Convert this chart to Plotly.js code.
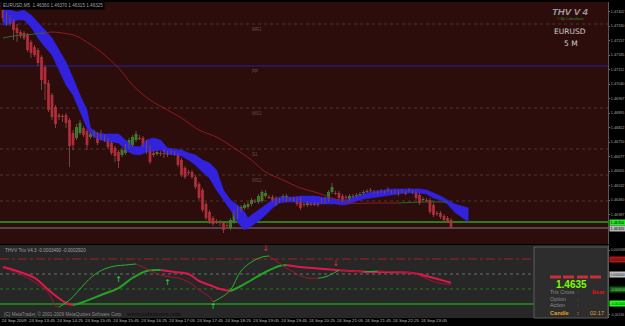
<!DOCTYPE html>
<html><head><meta charset="utf-8">
<script src="https://cdn.plot.ly/plotly-3.0.1.min.js"></script>
<style>html,body{margin:0;padding:0;background:#000;overflow:hidden}#chart{width:625px;height:326px}</style>
</head><body><div id="chart"></div>
<script>
// ---------------- DATA ----------------
const symbol = "EURUSD,M5";
const candleOpen = [1.47410,1.47390,1.47375,1.47355,1.47320,1.47300,1.47295,1.47285,1.47250,1.47225,
1.47210,1.47175,1.47125,1.47045,1.46985,1.46925,1.46885,1.46880,1.46885,1.46860,
1.46795,1.46770,1.46795,1.46820,1.46805,1.46775,1.46780,1.46785,1.46775,1.46770,
1.46760,1.46745,1.46720,1.46700,1.46685,1.46695,1.46725,1.46735,1.46760,1.46770,
1.46770,1.46750,1.46725,1.46695,1.46690,1.46695,1.46695,1.46695,1.46690,1.46695,
1.46685,1.46660,1.46620,1.46600,1.46600,1.46575,1.46540,1.46510,1.46440,1.46400,
1.46370,1.46355,1.46350,1.46345,1.46335,1.46320,1.46350,1.46375,1.46410,1.46420,
1.46425,1.46440,1.46455,1.46450,1.46455,1.46480,1.46475,1.46475,1.46470,1.46460,
1.46465,1.46460,1.46465,1.46465,1.46465,1.46465,1.46440,1.46435,1.46440,1.46440,
1.46440,1.46460,1.46450,1.46460,1.46500,1.46495,1.46495,1.46480,1.46475,1.46465,
1.46480,1.46480,1.46485,1.46495,1.46500,1.46510,1.46500,1.46500,1.46505,1.46500,
1.46505,1.46500,1.46500,1.46500,1.46505,1.46495,1.46510,1.46500,1.46495,1.46485,
1.46460,1.46460,1.46460,1.46435,1.46395,1.46395,1.46380,1.46370,1.46360];
const candleClose = [1.47370,1.47340,1.47340,1.47310,1.47295,1.47280,1.47270,1.47210,1.47195,1.47185,
1.47145,1.47060,1.47040,1.46910,1.46875,1.46840,1.46875,1.46875,1.46845,1.46730,
1.46735,1.46825,1.46845,1.46785,1.46735,1.46790,1.46790,1.46745,1.46770,1.46765,
1.46725,1.46695,1.46680,1.46655,1.46710,1.46730,1.46760,1.46775,1.46790,1.46765,
1.46735,1.46700,1.46650,1.46685,1.46700,1.46690,1.46690,1.46685,1.46700,1.46690,
1.46635,1.46585,1.46575,1.46595,1.46575,1.46525,1.46470,1.46410,1.46370,1.46350,
1.46340,1.46350,1.46345,1.46310,1.46330,1.46360,1.46400,1.46420,1.46425,1.46435,
1.46440,1.46460,1.46450,1.46480,1.46500,1.46495,1.46470,1.46460,1.46440,1.46455,
1.46480,1.46480,1.46460,1.46460,1.46440,1.46420,1.46435,1.46445,1.46435,1.46435,
1.46435,1.46450,1.46465,1.46500,1.46525,1.46490,1.46470,1.46460,1.46470,1.46480,
1.46475,1.46485,1.46490,1.46500,1.46505,1.46505,1.46495,1.46495,1.46500,1.46495,
1.46515,1.46495,1.46495,1.46490,1.46500,1.46490,1.46505,1.46495,1.46470,1.46445,
1.46465,1.46455,1.46400,1.46385,1.46390,1.46375,1.46360,1.46355,1.46325];
const candleHigh = [1.47420,1.47400,1.47385,1.47365,1.47340,1.47310,1.47305,1.47295,1.47260,1.47235,
1.47220,1.47185,1.47135,1.47060,1.46995,1.46935,1.46895,1.46890,1.46895,1.46870,
1.46810,1.46840,1.46860,1.46830,1.46815,1.46800,1.46810,1.46800,1.46810,1.46785,
1.46770,1.46755,1.46730,1.46710,1.46720,1.46740,1.46770,1.46785,1.46805,1.46785,
1.46780,1.46760,1.46735,1.46710,1.46710,1.46705,1.46715,1.46705,1.46710,1.46705,
1.46695,1.46670,1.46630,1.46610,1.46610,1.46585,1.46550,1.46520,1.46450,1.46410,
1.46380,1.46365,1.46360,1.46355,1.46345,1.46370,1.46410,1.46430,1.46435,1.46445,
1.46450,1.46470,1.46465,1.46490,1.46510,1.46510,1.46485,1.46485,1.46480,1.46470,
1.46490,1.46490,1.46475,1.46475,1.46475,1.46475,1.46450,1.46455,1.46450,1.46450,
1.46450,1.46470,1.46475,1.46510,1.46545,1.46505,1.46505,1.46490,1.46485,1.46490,
1.46490,1.46495,1.46500,1.46510,1.46515,1.46520,1.46510,1.46510,1.46515,1.46510,
1.46525,1.46510,1.46510,1.46510,1.46515,1.46505,1.46520,1.46510,1.46505,1.46495,
1.46475,1.46470,1.46470,1.46445,1.46405,1.46405,1.46390,1.46380,1.46370];
const candleLow = [1.47350,1.47330,1.47330,1.47260,1.47250,1.47270,1.47260,1.47200,1.47170,1.47175,
1.47130,1.47010,1.46960,1.46900,1.46860,1.46820,1.46860,1.46850,1.46820,1.46625,
1.46710,1.46760,1.46785,1.46775,1.46710,1.46765,1.46770,1.46735,1.46760,1.46750,
1.46715,1.46685,1.46650,1.46620,1.46675,1.46685,1.46715,1.46725,1.46750,1.46760,
1.46725,1.46690,1.46640,1.46675,1.46680,1.46680,1.46670,1.46675,1.46685,1.46680,
1.46625,1.46575,1.46565,1.46585,1.46565,1.46515,1.46460,1.46400,1.46360,1.46340,
1.46330,1.46340,1.46330,1.46295,1.46320,1.46310,1.46340,1.46365,1.46400,1.46410,
1.46415,1.46430,1.46445,1.46440,1.46445,1.46470,1.46465,1.46450,1.46430,1.46445,
1.46455,1.46450,1.46455,1.46450,1.46430,1.46410,1.46425,1.46425,1.46430,1.46430,
1.46425,1.46440,1.46440,1.46450,1.46490,1.46485,1.46460,1.46450,1.46465,1.46455,
1.46470,1.46475,1.46480,1.46485,1.46495,1.46500,1.46490,1.46490,1.46495,1.46490,
1.46500,1.46490,1.46490,1.46480,1.46495,1.46485,1.46500,1.46490,1.46460,1.46435,
1.46455,1.46450,1.46390,1.46375,1.46380,1.46365,1.46350,1.46345,1.46315];

const timeTickIndex = [0,8,16,24,32,40,48,56,64,72,80,88,96,104,112,120];
const timeTickLabels = ["24 Sep 2009","24 Sep 13:45","24 Sep 14:25","24 Sep 15:05","24 Sep 15:45","24 Sep 16:25",
"24 Sep 17:05","24 Sep 17:45","24 Sep 18:25","24 Sep 19:05","24 Sep 19:45","24 Sep 20:25","24 Sep 21:05",
"24 Sep 21:45","24 Sep 22:25","24 Sep 23:05"];

const cloudIndex = [0,2,4,6,8,10,12,14,16,18,20,22,24,25,27,29,31,33,35,37,39,41,43,45,47,49,51,53,55,57,59,61,63,65,67,69,70,71,73,75,77,79,81,83,85,87,89,91,93,95,97,99,101,103,105,107,109,111,113,115,117,119,121,123,125,127,129,131,133];
const cloudTop = [1.47410,1.47410,1.47400,1.47410,1.47385,1.47350,1.47310,1.47270,1.47210,1.47150,
1.47070,1.46985,1.46910,1.46820,1.46795,1.46790,1.46790,1.46790,1.46760,1.46730,
1.46725,1.46760,1.46770,1.46760,1.46720,1.46715,1.46710,1.46695,1.46685,1.46660,
1.46645,1.46610,1.46510,1.46460,1.46435,1.46400,1.46370,1.46385,1.46410,1.46435,
1.46460,1.46475,1.46475,1.46475,1.46480,1.46480,1.46480,1.46475,1.46470,1.46465,
1.46460,1.46465,1.46480,1.46490,1.46500,1.46505,1.46510,1.46515,1.46515,1.46515,
1.46515,1.46515,1.46510,1.46495,1.46480,1.46460,1.46440,1.46430,1.46420];
const cloudBottom = [1.47335,1.47340,1.47360,1.47360,1.47325,1.47270,1.47225,1.47185,1.47110,1.47035,
1.46985,1.46900,1.46820,1.46790,1.46765,1.46755,1.46750,1.46745,1.46710,1.46690,
1.46685,1.46700,1.46705,1.46710,1.46690,1.46685,1.46680,1.46660,1.46635,1.46600,
1.46570,1.46510,1.46460,1.46410,1.46350,1.46310,1.46320,1.46330,1.46355,1.46385,
1.46420,1.46445,1.46450,1.46450,1.46450,1.46445,1.46440,1.46440,1.46440,1.46440,
1.46435,1.46440,1.46455,1.46465,1.46470,1.46475,1.46480,1.46485,1.46490,1.46495,
1.46495,1.46495,1.46490,1.46470,1.46460,1.46440,1.46400,1.46375,1.46350];

const maIndex = [0,3,6,9,12,14,17,21,23,28,33,37,42,47,51,56,61,66,71,75,80,85,90,94,99,106,113,120,127];
const maValue = [1.47270,1.47280,1.47285,1.47290,1.47295,1.47300,1.47295,1.47280,1.47260,1.47200,
1.47120,1.47035,1.46960,1.46910,1.46870,1.46810,1.46775,1.46720,1.46660,1.46600,
1.46560,1.46520,1.46495,1.46470,1.46445,1.46445,1.46445,1.46450,1.46450];

const pivotLabels = ["MR1","PP","MS1","S1","MS2",""];
const pivotLevels = [1.47340,1.47130,1.46920,1.46715,1.46585,1.46455];
const priceLineLevels = [1.46350,1.46320];

const trixIndex = [0,5,9,13,15,16,17,19,21,23,26,29,32,35,38,40,43,45,48,50,53,56,59,60,63,65,68,71,74,76,78,81,84,87,90,92,94,96,99,103,107,110,113,117,120,123,126,128];
const trixValue = [0.000200,0,-0.000267,-0.000633,-0.001067,-0.001100,-0.001033,-0.000867,-0.000633,-0.000367,
-0.000033,0.000167,0.000267,0.000300,0.000333,0.000233,0.000067,-0.000033,-0.000100,-0.000133,
-0.000267,-0.000533,-0.000767,-0.000933,-0.000733,-0.000533,0.000100,0.000400,0.000567,0.000600,
0.000433,0.000200,0,-0.000133,-0.000140,-0.000100,0,0.000133,0.000100,0.000067,
0.000100,0.000083,0.000067,0.000033,-0.000100,-0.000250,-0.000330,-0.000349];
const signalIndex = [0,9,13,18,20,23,28,33,37,41,45,49,53,56,59,62,65,68,71,75,79,81,85,90,95,100,105,112,117,122,128];
const signalValue = [0.000233,-0.000133,-0.000533,-0.000967,-0.001033,-0.000933,-0.000700,-0.000467,-0.000133,0.000100,
0.000133,0.000067,0,-0.000233,-0.000367,-0.000500,-0.000567,-0.000400,-0.000200,0.000067,
0.000267,0.000300,0.000233,0.000183,0.000133,0.000100,0.000067,0.000060,0.000033,-0.000100,-0.000292];
const trixLevels = [0.0005,0,-0.0005,-0.001];
const arrowUpIndex = [33,47,60];
const arrowUpValue = [-0.00020,-0.00030,-0.00110];
const arrowDownIndex = [75,95];
const arrowDownValue = [0.00083,0.00033];

// ---------------- BUILD ----------------
const FONT = 'Liberation Sans, Arial, sans-serif';
const idx = candleOpen.map((_, i) => i);
const bodyBase = idx.map(i => Math.min(candleOpen[i], candleClose[i]));
const bodyLen = idx.map(i => Math.abs(candleClose[i] - candleOpen[i]));
const bodyColor = idx.map(i => candleClose[i] >= candleOpen[i] ? '#1f9c26' : '#cc1c36');
const wickX = [], wickY = [];
idx.forEach(i => { wickX.push(i, i, null); wickY.push(candleLow[i], candleHigh[i], null); });

function slopeRuns(xs, ys) {
  const up = {x: [], y: []}, dn = {x: [], y: []};
  let curDir = null;
  for (let k = 0; k < xs.length - 1; k++) {
    const dir = ys[k + 1] > ys[k] ? 'up' : 'dn';
    const t = dir === 'up' ? up : dn;
    if (dir !== curDir) {
      if (t.x.length) { t.x.push(null); t.y.push(null); }
      t.x.push(xs[k]); t.y.push(ys[k]);
      curDir = dir;
    }
    t.x.push(xs[k + 1]); t.y.push(ys[k + 1]);
  }
  return {up, dn};
}
function sliceBy(xs, ys, lo, hi) {
  const o = {x: [], y: []};
  xs.forEach((x, k) => { if (x >= lo && x <= hi) { o.x.push(x); o.y.push(ys[k]); } });
  return o;
}

const traces = [];
traces.push({x: cloudIndex, y: cloudBottom, type: 'scatter', mode: 'lines', line: {color: '#3322dd', width: 0.6}});
traces.push({x: cloudIndex, y: cloudTop, type: 'scatter', mode: 'lines', fill: 'tonexty', fillcolor: '#3322dd', line: {color: '#3322dd', width: 0.6}});
const maA = sliceBy(maIndex, maValue, 0, 12), maB = sliceBy(maIndex, maValue, 12, 113), maC = sliceBy(maIndex, maValue, 113, 200);
traces.push({x: maA.x, y: maA.y, type: 'scatter', mode: 'lines', line: {color: '#2c6a2c', width: 1, shape: 'spline'}});
traces.push({x: maB.x, y: maB.y, type: 'scatter', mode: 'lines', line: {color: '#8e1c1c', width: 1, shape: 'spline'}});
traces.push({x: maC.x, y: maC.y, type: 'scatter', mode: 'lines', line: {color: '#2a6a24', width: 1, shape: 'spline'}});
traces.push({x: wickX, y: wickY, type: 'scatter', mode: 'lines', line: {color: 'rgba(120,78,66,0.9)', width: 1}});
traces.push({x: idx, y: bodyLen, base: bodyBase, type: 'bar', width: 0.8, marker: {color: bodyColor, line: {width: 0}}});

const thin = slopeRuns(trixIndex, trixValue);
const thick = slopeRuns(signalIndex, signalValue);
traces.push({x: thick.dn.x, y: thick.dn.y, type: 'scatter', mode: 'lines', line: {color: '#e0174c', width: 2, shape: 'spline'}, xaxis: 'x2', yaxis: 'y2'});
traces.push({x: thick.up.x, y: thick.up.y, type: 'scatter', mode: 'lines', line: {color: '#25a125', width: 2, shape: 'spline'}, xaxis: 'x2', yaxis: 'y2'});
traces.push({x: thin.dn.x, y: thin.dn.y, type: 'scatter', mode: 'lines', line: {color: '#a8122e', width: 1, shape: 'spline'}, xaxis: 'x2', yaxis: 'y2'});
traces.push({x: thin.up.x, y: thin.up.y, type: 'scatter', mode: 'lines', line: {color: '#2fae2f', width: 1, shape: 'spline'}, xaxis: 'x2', yaxis: 'y2'});
traces.push({x: arrowUpIndex, y: arrowUpValue, type: 'scatter', mode: 'text', text: arrowUpIndex.map(() => '↑'), textfont: {family: 'DejaVu Sans', size: 8, color: '#33dd33'}, xaxis: 'x2', yaxis: 'y2'});
traces.push({x: arrowDownIndex, y: arrowDownValue, type: 'scatter', mode: 'text', text: arrowDownIndex.map(() => '↓'), textfont: {family: 'DejaVu Sans', size: 8, color: '#ee2222'}, xaxis: 'x2', yaxis: 'y2'});

const PW = 608, PT = 2, PB = 318, PH = PB - PT;
const px = v => v / PW;
const py = v => (PB - v) / PH;

const shapes = [];
shapes.push({type: 'rect', xref: 'paper', yref: 'paper', x0: 0, x1: 1, y0: 0, y1: py(245), fillcolor: '#272727', line: {width: 0}, layer: 'below'});
const lvlStyle = [{c: '#a52020', d: 'dashdot', w: 1}, {c: '#6e6e6e', d: 'dot', w: 1}, {c: '#1f7a1f', d: 'dot', w: 1}, {c: '#1c9a1c', d: 'solid', w: 1.5}];
trixLevels.forEach((v, k) => shapes.push({type: 'line', xref: 'paper', yref: 'y2', x0: 0, x1: 1, y0: v, y1: v, line: {color: lvlStyle[k].c, dash: lvlStyle[k].d, width: lvlStyle[k].w}, layer: 'below'}));
pivotLevels.forEach((v, k) => shapes.push({type: 'line', xref: 'paper', yref: 'y', x0: 0, x1: 1, y0: v, y1: v,
  line: k === 1 ? {color: '#2222a8', width: 1} : {color: '#4a3a30', width: 1, dash: 'dot'}, layer: 'below'}));
shapes.push({type: 'line', xref: 'paper', yref: 'y', x0: 0, x1: 1, y0: priceLineLevels[0], y1: priceLineLevels[0], line: {color: '#22ee22', width: 1}, layer: 'below'});
shapes.push({type: 'line', xref: 'paper', yref: 'y', x0: 0, x1: 1, y0: priceLineLevels[1], y1: priceLineLevels[1], line: {color: '#7c7c98', width: 1}, layer: 'below'});
shapes.push({type: 'rect', xref: 'paper', yref: 'paper', x0: px(534), x1: px(608), y0: py(318), y1: py(247), fillcolor: '#2d2d2d', line: {color: '#5c5c5c', width: 1}, layer: 'above'});
[[550, 561], [563, 574], [577, 588], [590, 601]].forEach(([a, b]) => shapes.push({type: 'rect', xref: 'paper', yref: 'paper', x0: px(a), x1: px(b), y0: py(278.5), y1: py(275.5), fillcolor: '#c4303c', line: {width: 0}, layer: 'above'}));

const last = candleOpen.length - 1;
const small = {family: FONT, size: 4.6, color: '#a0a0a0'};
const ann = [];
function note(o) { ann.push(Object.assign({xref: 'paper', yref: 'paper', xanchor: 'left', yanchor: 'middle', showarrow: false}, o)); }
note({x: px(1), y: py(5.5), bgcolor: '#000000', borderpad: 1,
  text: symbol + '  ' + [candleOpen[last], candleHigh[last], candleLow[last], candleClose[last]].map(v => v.toFixed(5)).join(' '), font: small});
note({x: px(570), y: py(12), xanchor: 'center', text: '<b><i>THV V 4</i></b>', font: {family: FONT, size: 9.5, color: '#9c9c9c'}});
note({x: px(570), y: py(19.5), xanchor: 'center', text: '© By Cobraforex', font: {family: FONT, size: 3.6, color: '#2f8f2f'}});
note({x: px(570), y: py(32), xanchor: 'center', text: 'EURUSD', font: {family: 'DejaVu Sans', size: 7.5, color: '#cfcfcf'}});
note({x: px(571), y: py(43), xanchor: 'center', text: '5 M', font: {family: 'DejaVu Sans', size: 7.5, color: '#cfcfcf'}});
pivotLevels.forEach((v, k) => { if (pivotLabels[k]) note({yref: 'y', x: px(250), y: v, yanchor: 'top', yshift: -1, text: pivotLabels[k], font: {family: FONT, size: 4.6, color: '#6a4a44'}}); });
note({yref: 'y', x: px(609.3), y: priceLineLevels[0], bgcolor: '#22ee22', borderpad: 0.5, text: priceLineLevels[0].toFixed(5), font: {family: FONT, size: 3.8, color: '#000'}});
note({yref: 'y', x: px(609.3), y: priceLineLevels[1], bgcolor: '#b8b8b8', borderpad: 0.5, text: priceLineLevels[1].toFixed(5), font: {family: FONT, size: 3.8, color: '#000'}});
const lvlBox = [['#b01818', '#300000'], ['#c0c0c0', '#202020'], ['#0c5a0c', '#8fdc8f'], ['#22ff22', '#003300']];
trixLevels.forEach((v, k) => note({yref: 'y2', x: px(609.3), y: v, bgcolor: lvlBox[k][0], borderpad: 0.5, text: v.toFixed(6), font: {family: FONT, size: 3.4, color: lvlBox[k][1]}}));
note({x: px(3), y: py(250), text: 'THVV Trix V4.3 ' + trixValue[trixValue.length - 1].toFixed(7) + ' ' + signalValue[signalValue.length - 1].toFixed(7), font: small});
note({x: px(2), y: py(314), text: '(C) MetaTrader, © 2001-2009 MetaQuotes Software Corp.', font: {family: FONT, size: 4.6, color: '#8a8a8a'}});
note({x: px(125), y: py(313.5), text: 'www.cobraforex.com', font: {family: 'Liberation Serif', size: 6.2, color: '#0a0a0a'}});
note({x: px(571), y: py(284), xanchor: 'center', text: '<b>' + priceLineLevels[0].toFixed(4) + '</b>', font: {family: FONT, size: 10, color: '#7cfc00'}});
const rows = [['Trix Cross', 292], ['Option', 298.5], ['Action', 305]];
rows.forEach(([t, y]) => {
  note({x: px(548), y: py(y), text: t, font: {family: FONT, size: 5.4, color: '#8c8c8c'}});
  note({x: px(575), y: py(y), text: ':', font: {family: FONT, size: 5.4, color: '#8c8c8c'}});
});
note({x: px(590), y: py(292), text: '<b>Bear</b>', font: {family: FONT, size: 5.6, color: '#e01414'}});
note({x: px(548), y: py(313), text: '<b>Candle</b>', font: {family: FONT, size: 5.6, color: '#e0a024'}});
note({x: px(575), y: py(313), text: '<b>:</b>', font: {family: FONT, size: 5.6, color: '#e0a024'}});
note({x: px(588), y: py(313), text: '02:17', font: {family: FONT, size: 5.6, color: '#e0a024'}});

const priceTicks = [];
for (let k = -1; k <= 13; k++) priceTicks.push(1.46460 + k * 0.000725);

const axisFont = {family: FONT, size: 3.8, color: '#a0a0a0'};
const layout = {
  width: 625, height: 326,
  margin: {l: 0, r: 17, t: 2, b: 8, pad: 0},
  paper_bgcolor: '#000000',
  plot_bgcolor: '#2c0d0b',
  showlegend: false,
  hovermode: false,
  xaxis: {domain: [0, 1], range: [-0.857, 172.86], anchor: 'y', showticklabels: false, ticks: '', showgrid: false, zeroline: false, showline: false, fixedrange: true},
  yaxis: {domain: [py(244), 1], range: [1.46240, 1.47450], side: 'right', anchor: 'x', tickmode: 'array', tickvals: priceTicks,
    ticktext: priceTicks.map(v => v.toFixed(5)), tickfont: axisFont, ticks: 'outside', ticklen: 1, tickcolor: '#777', ticklabelstandoff: 0,
    showgrid: false, zeroline: false, showline: true, linecolor: '#585858', linewidth: 1, fixedrange: true},
  xaxis2: {domain: [0, 1], range: [-0.857, 172.86], anchor: 'y2', tickmode: 'array', tickvals: timeTickIndex, ticktext: timeTickLabels,
    tickfont: {family: FONT, size: 4.4, color: '#b8b8b8'}, tickangle: 0, ticks: '', ticklabelshift: 11, ticklabelstandoff: -1,
    showgrid: false, zeroline: false, showline: false, fixedrange: true},
  yaxis2: {domain: [0, py(245)], range: [-0.001467, 0.000967], side: 'right', anchor: 'x2', tickmode: 'array', tickvals: [0.0008, -0.00136],
    ticktext: ['0.000948', '-0.00136'], tickfont: {family: FONT, size: 3.4, color: '#a0a0a0'}, ticks: 'outside', ticklen: 1, tickcolor: '#777', ticklabelstandoff: 0,
    showgrid: false, zeroline: false, showline: true, linecolor: '#585858', linewidth: 1, fixedrange: true},
  shapes: shapes,
  annotations: ann
};
traces.forEach(t => { if (!t.xaxis) { t.xaxis = 'x'; t.yaxis = 'y'; } t.hoverinfo = 'skip'; });
Plotly.newPlot('chart', traces, layout, {staticPlot: true, displayModeBar: false});
</script>
</body></html>
